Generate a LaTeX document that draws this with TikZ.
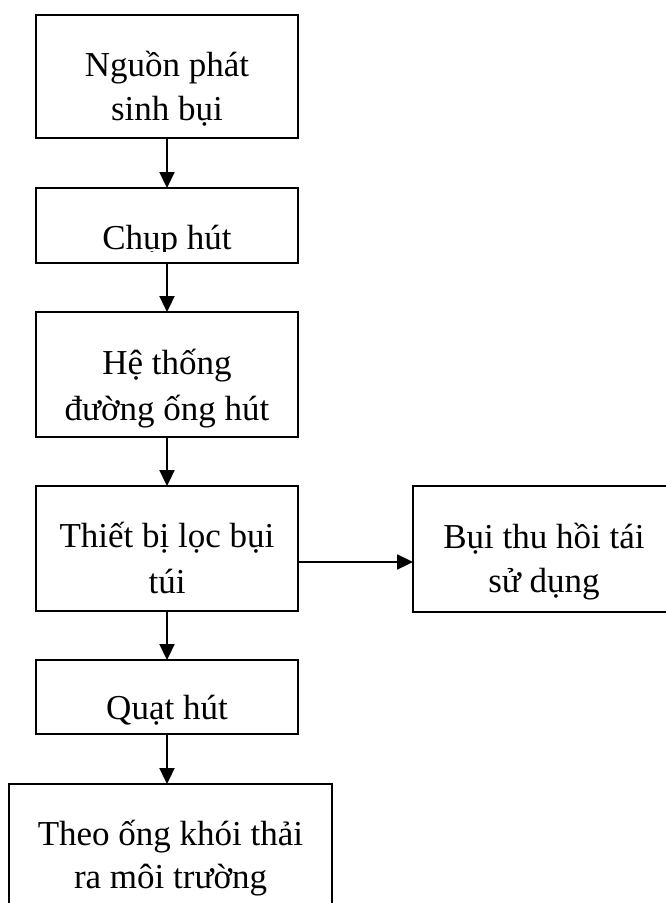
\documentclass[tikz,border=0pt]{standalone}
\usepackage{fontspec}
\setmainfont{Liberation Serif}
\usetikzlibrary{arrows.meta}
\begin{document}
\begin{tikzpicture}[x=1pt,y=-1pt,
  box/.style={draw=black,line width=2.3pt,fill=white,rectangle,inner sep=0pt,outer sep=0pt},
  lbl/.style={anchor=base,inner sep=0pt,font=\fontsize{35}{45}\selectfont},
  flow/.style={line width=2.3pt,-{Triangle[width=15pt,length=16pt]}}]
\useasboundingbox (0,0) rectangle (665,903);

% process boxes (centre, width, height)
\node[box,minimum width=262pt,minimum height=123pt] (b1) at (167,76.5) {};
\node[box,minimum width=262pt,minimum height=75pt]  (b2) at (167,225.5) {};
\node[box,minimum width=262pt,minimum height=125pt] (b3) at (167,374.5) {};
\node[box,minimum width=262pt,minimum height=125pt] (b4) at (167,548.5) {};
\node[box,minimum width=263pt,minimum height=126pt] (b5) at (544.5,549) {};
\node[box,minimum width=262pt,minimum height=74pt]  (b6) at (167,697) {};
\node[box,minimum width=323pt,minimum height=146pt] (b7) at (170.5,857) {};

% labels
\node[lbl] (t1a) at (167,76) {Nguồn phát};
\node[lbl] (t1b) at (167,120) {sinh bụi};
\begin{scope}
  \clip (36,188) rectangle (298,251);
  \node[lbl] (t2) at (167,249) {Chụp hút};
\end{scope}
\node[lbl] (t3a) at (167,374) {Hệ thống};
\node[lbl] (t3b) at (167,420) {đường ống hút};
\node[lbl] (t4a) at (167,547) {Thiết bị lọc bụi};
\node[lbl] (t4b) at (167,593) {túi};
\node[lbl] (t5a) at (544,548) {Bụi thu hồi tái};
\node[lbl] (t5b) at (544,592) {sử dụng};
\begin{scope}
  \clip (36,660) rectangle (298,725);
  \node[lbl] (t6) at (167,719) {Quạt hút};
\end{scope}
\node[lbl] (t7a) at (170.5,845) {Theo ống khói thải};
\node[lbl] (t7b) at (170.5,888) {ra môi trường};

% connectors
\draw[flow] (b1.south) -- (b2.north);
\draw[flow] (b2.south) -- (b3.north);
\draw[flow] (b3.south) -- (b4.north);
\draw[flow] (b4.east |- 0,562) -- (b5.west |- 0,562);
\draw[flow] (b4.south) -- (b6.north);
\draw[flow] (b6.south) -- (b7.north -| b6.south);
\end{tikzpicture}
\end{document}
